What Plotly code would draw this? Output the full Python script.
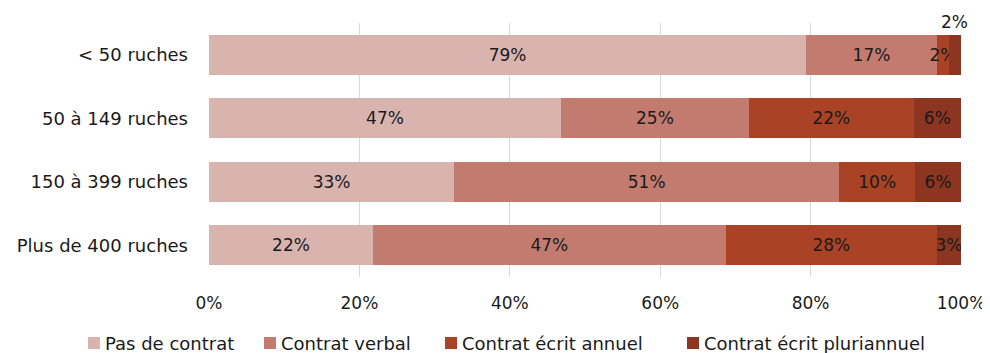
import plotly.graph_objects as go

categories = ["< 50 ruches", "50 à 149 ruches", "150 à 399 ruches", "Plus de 400 ruches"]
series_names = ["Pas de contrat", "Contrat verbal", "Contrat écrit annuel", "Contrat écrit pluriannuel"]
pas_de_contrat = [79.4, 46.8, 32.6, 21.8]
contrat_verbal = [17.4, 25.0, 51.2, 46.9]
ecrit_annuel = [1.6, 21.9, 10.1, 28.1]
ecrit_pluriannuel = [1.6, 6.3, 6.1, 3.2]
tick_values = [0, 20, 40, 60, 80, 100]
tick_labels = ["0%", "20%", "40%", "60%", "80%", "100%"]
colors = ["#D9B4AF", "#C37B6F", "#AA4326", "#8C3520"]

series = [pas_de_contrat, contrat_verbal, ecrit_annuel, ecrit_pluriannuel]
FONT = "DejaVu Sans"
TXT = "#1a1a1a"

# page body has an 8px margin: figure is shrunk so the plot lands where the reference has it
W, H = 982, 345
ML, MT, PW, PH = 201, 15, 752, 254
OFF = 8

fig = go.Figure()
for si, (name, vals, col) in enumerate(zip(series_names, series, colors)):
    texts = []
    for ci, v in enumerate(vals):
        if si == 3 and ci == 0:
            texts.append("")
        else:
            texts.append(f"{round(v)}%")
    fig.add_trace(go.Bar(
        y=categories, x=vals, name=name, orientation="h",
        marker=dict(color=col, line=dict(width=0)),
        text=texts, textposition="inside", insidetextanchor="middle",
        textangle=0, constraintext="none",
        textfont=dict(family=FONT, size=17, color=TXT),
        hoverinfo="skip", showlegend=False,
    ))

x_mid = pas_de_contrat[0] + contrat_verbal[0] + ecrit_annuel[0] + ecrit_pluriannuel[0] / 2
fig.add_annotation(x=x_mid, y=categories[0], text=f"{round(ecrit_pluriannuel[0])}%",
                   showarrow=False, yshift=33,
                   font=dict(family=FONT, size=17, color=TXT))

# legend drawn below the chart (reference pixel positions)
def px_to_paper_x(px):
    return (px - OFF - ML) / PW

def py_to_paper_y(py):
    return (MT + PH - (py - OFF)) / PH

legend_square_left = [88, 264, 445, 687]
SQ = 12
LEG_Y = 343
for name, col, sx in zip(series_names, colors, legend_square_left):
    fig.add_shape(type="rect", xref="paper", yref="paper",
                  x0=px_to_paper_x(sx), x1=px_to_paper_x(sx + SQ),
                  y0=py_to_paper_y(LEG_Y + SQ / 2), y1=py_to_paper_y(LEG_Y - SQ / 2),
                  fillcolor=col, line=dict(width=0))
    fig.add_annotation(xref="paper", yref="paper",
                       x=px_to_paper_x(sx + SQ + 3), y=py_to_paper_y(LEG_Y),
                       xanchor="left", yanchor="middle", showarrow=False,
                       text=name, font=dict(family=FONT, size=18, color=TXT))

fig.update_layout(
    width=W, height=H,
    barmode="stack", bargap=0.37,
    margin=dict(l=ML, r=W - ML - PW, t=MT, b=H - MT - PH, autoexpand=False),
    plot_bgcolor="white", paper_bgcolor="white",
    font=dict(family=FONT, size=17, color=TXT),
    xaxis=dict(range=[0, 100], tickvals=tick_values, ticktext=tick_labels,
               showgrid=True, gridcolor="#D9D9D9", gridwidth=1,
               zeroline=False, showline=False, ticks="", ticklen=0,
               automargin=False, ticklabelstandoff=14,
               tickfont=dict(family=FONT, size=17, color=TXT)),
    yaxis=dict(autorange="reversed", showgrid=False, zeroline=False,
               ticks="", ticklen=0, automargin=False, ticklabelstandoff=20,
               tickfont=dict(family=FONT, size=18, color=TXT)),
    showlegend=False,
)

fig.write_html("out.html")
